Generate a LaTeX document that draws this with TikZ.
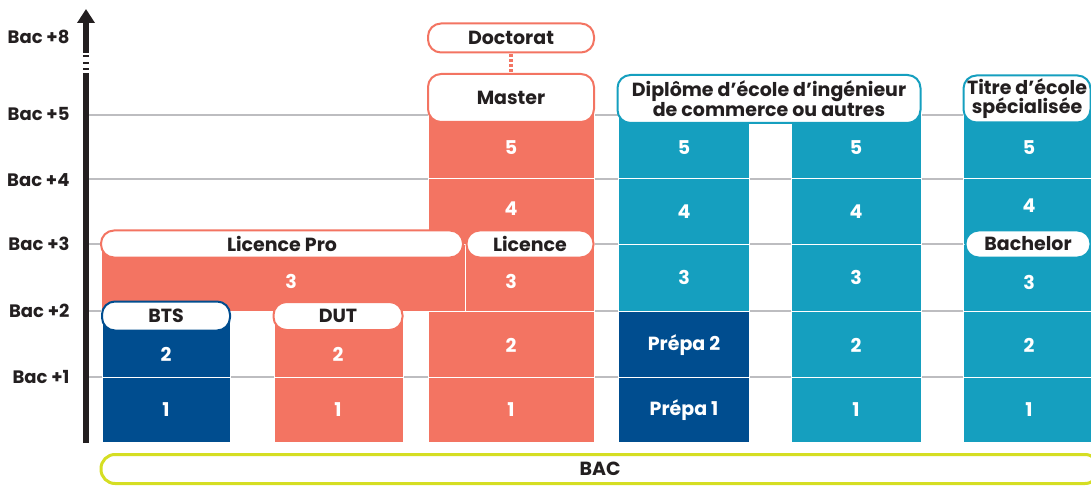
\documentclass[tikz,border=0pt]{standalone}
\usepackage{fontspec}
\setmainfont{Poppins}
\usetikzlibrary{arrows.meta, positioning}

\definecolor{corail}{HTML}{F37462}
\definecolor{turquoise}{HTML}{159FBF}
\definecolor{marine}{HTML}{004D8F}
\definecolor{anis}{HTML}{D5DE23}
\definecolor{grille}{HTML}{BDBDC0}
\definecolor{encre}{HTML}{231F20}

\begin{document}
\begin{tikzpicture}[x=1pt, y=-1pt,
    cell/.style={draw=white, line width=1pt},
    num/.style={text=white, font=\bfseries\fontsize{19}{19}\selectfont},
    tag/.style={draw=#1, line width=2pt, fill=white, rounded corners=13pt, inner sep=0pt,
        text=encre, align=center, font=\bfseries\fontsize{19}{19}\selectfont},
    lvl/.style={anchor=east, text=encre, font=\bfseries\fontsize{18}{18}\selectfont}]
    \useasboundingbox (0,0) rectangle (1091,486);

    % grille des niveaux
    \foreach \y in {115,179,244,311,377}
        \draw[grille, line width=1.5pt] (89,\y) -- (1091,\y);
    \foreach \n/\y in {8/37,5/114,4/180,3/244,2/311,1/377}
        \node[lvl] (bac\n) at (73,\y) {Bac +\n};

    % axe
    \draw[encre, line width=6pt] (86,443) -- (86,73);
    \draw[encre, line width=6pt, -{Triangle[width=17pt,length=14pt]}] (86,53) -- (86,9);
    \foreach \y in {56,63,69}
        \draw[encre, line width=2pt] (83,\y) -- (89,\y);

    % colonnes
    \foreach \a/\b in {316/377, 377/442} {
        \draw[cell, fill=marine] (102,\a) rectangle (230,\b);
        \draw[cell, fill=corail] (274,\a) rectangle (403,\b);
    }
    \foreach \a/\b in {98/179, 179/244, 311/377, 377/442}
        \draw[cell, fill=corail] (428,\a) rectangle (594,\b);
    \draw[cell, fill=corail] (465,244) rectangle (594,311);
    \draw[cell, fill=corail] (101,244) rectangle (465,311);
    \foreach \a/\b in {99/179, 179/244, 244/311} \draw[cell, fill=turquoise] (618,\a) rectangle (749,\b);
    \foreach \a/\b in {311/377, 377/442} \draw[cell, fill=marine] (618,\a) rectangle (749,\b);
    \foreach \a/\b in {99/179, 179/244, 244/311, 311/377, 377/442} {
        \draw[cell, fill=turquoise] (791,\a) rectangle (921,\b);
        \draw[cell, fill=turquoise] (963,\a) rectangle (1095,\b);
    }

    % étiquettes
    \node[tag=marine, minimum width=128, minimum height=29] (bts) at (166,316) {BTS};
    \node[tag=corail, minimum width=129, minimum height=28] (dut) at (338,316) {DUT};
    \node[tag=corail, minimum width=362, minimum height=27] (lpro) at (282,244) {Licence Pro};
    \node[tag=corail, minimum width=127, minimum height=27] (licence) at (530,244) {Licence};
    \node[tag=corail, minimum width=166, minimum height=48] (master) at (511,98) {Master};
    \node[tag=corail, minimum width=166, minimum height=29] (doctorat) at (511,38) {Doctorat};
    \node[tag=turquoise, minimum width=303, minimum height=48] (diplome) at (769,99)
        {Diplôme d’école d’ingénieur\\de commerce ou autres};
    \node[tag=turquoise, minimum width=127, minimum height=47] (titre) at (1027,99)
        {Titre d’école\\spécialisée};
    \node[tag=turquoise, minimum width=125, minimum height=27] (bachelor) at (1028,244) {Bachelor};
    \node[tag=anis, line width=3pt, minimum width=998, minimum height=29, rounded corners=14pt] (bac) at (600,469) {BAC};

    \draw[corail, line width=4pt, dash pattern=on 2.5pt off 2.5pt, shorten <=1pt] (doctorat) -- (master);

    % années
    \node[num] (bts2) at (166,354) {2};
    \node[num] (bts1) at (166,410) {1};
    \node[num] (dut2) at (338,354) {2};
    \node[num] (dut1) at (338,410) {1};
    \node[num] (lpro3) at (291,281) {3};
    \foreach \t/\y in {5/148, 4/209, 3/281, 2/345, 1/410}
        \node[num] (lic\t) at (511,\y) {\t};
    \foreach \t/\y in {5/148, 4/212, 3/277}
        \node[num] (ing\t) at (684,\y) {\t};
    \node[num] (prepa2) at (684,345) {Prépa 2};
    \node[num] (prepa1) at (684,410) {Prépa 1};
    \foreach \t/\y in {5/148, 4/212, 3/277, 2/345, 1/410}
        \node[num] (com\t) at (856,\y) {\t};
    \foreach \t/\y in {5/148, 4/206, 3/282, 2/345, 1/410}
        \node[num] (spe\t) at (1029,\y) {\t};
\end{tikzpicture}
\end{document}
